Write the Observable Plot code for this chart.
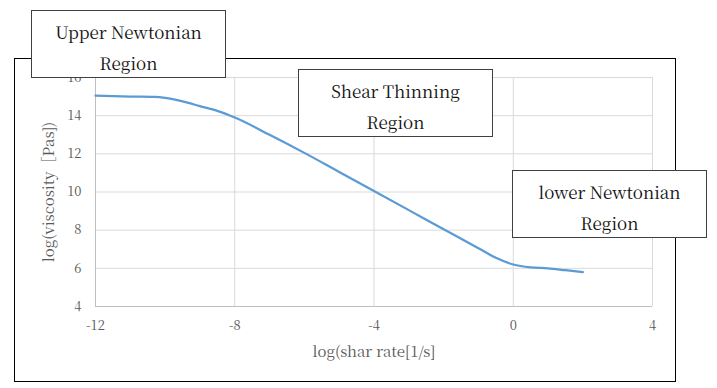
<!DOCTYPE html>
<html>
<head>
<meta charset="utf-8">
<script src="https://cdn.jsdelivr.net/npm/d3@7"></script>
<script src="https://cdn.jsdelivr.net/npm/@observablehq/plot@0.6"></script>
<style>
  html, body { margin: 0; padding: 0; background: #fff; }
  #wrap { position: relative; width: 717px; height: 388px; overflow: hidden; font-family: "Noto Serif CJK JP", "Liberation Serif", serif; }
  #frame { position: absolute; left: 14px; top: 58px; width: 662px; height: 324px; box-sizing: border-box; border: 1.5px solid #000; }
  #chart { position: absolute; left: 0; top: 0; }
  .note { position: absolute; box-sizing: border-box; width: 195px; height: 68px; border: 1px solid #404040; background: #fff;
          text-align: center; font-family: "Noto Serif CJK JP", "Liberation Serif", serif; font-size: 17px; line-height: 31px; padding-top: 5px; color: #111; }
</style>
</head>
<body>
<div id="wrap">
  <div id="frame"></div>
  <div id="chart"></div>
</div>
<script>
// ---- data ----
const shearRate = [-12, -11, -10.3, -10, -9.5, -9, -8.5, -8, -7, -6, -5, -4, -3, -2, -1, -0.5, 0, 0.5, 1, 1.5, 2];
const viscosity = [15.05, 15.0, 14.98, 14.93, 14.75, 14.5, 14.25, 13.9, 13.0, 12.05, 11.05, 10.05, 9.05, 8.05, 7.05, 6.55, 6.2, 6.05, 6.0, 5.9, 5.8];
const xTicks = [-12, -8, -4, 0, 4];
const yTicks = [4, 6, 8, 10, 12, 14, 16];
const xTitle = "log(shar rate[1/s]";
const yTitle = "log(viscosity［Pas])";
const noteTexts = [["Upper Newtonian", "Region"], ["Shear Thinning", "Region"], ["lower Newtonian", "Region"]];

// ---- layout (kept separate from data) ----
const notePos = [[31, 10], [298, 69], [512, 170]];
const FONT = '"Noto Serif CJK JP", "Liberation Serif", serif';

const rows = shearRate.map((x, i) => ({x, y: viscosity[i]}));

const plot = Plot.plot({
  width: 717,
  height: 388,
  marginLeft: 95,
  marginRight: 65,
  marginTop: 77,
  marginBottom: 82,
  style: { fontFamily: FONT, fontSize: "13px", color: "#595959", background: "transparent" },
  x: { domain: [-12, 4] },
  y: { domain: [4, 16] },
  marks: [
    Plot.gridX(xTicks, { stroke: "#d9d9d9", strokeOpacity: 1 }),
    Plot.gridY(yTicks, { stroke: "#d9d9d9", strokeOpacity: 1 }),
    Plot.ruleY([4], { stroke: "#bfbfbf" }),
    Plot.ruleX([-12], { stroke: "#bfbfbf" }),
    Plot.axisX(xTicks, { tickSize: 0, tickPadding: 14, tickFormat: d => String(d), fontSize: 13,
      label: xTitle, labelAnchor: "center", labelArrow: "none", labelOffset: 50, fill: "#595959" }),
    Plot.axisY(yTicks, { tickSize: 0, tickPadding: 14, tickFormat: d => String(d), fontSize: 13,
      label: yTitle, labelAnchor: "center", labelArrow: "none", labelOffset: 52, fill: "#595959" }),
    Plot.line(rows, { x: "x", y: "y", stroke: "#5b9bd5", strokeWidth: 2.25, curve: "monotone-x" })
  ]
});
document.getElementById("chart").appendChild(plot);

// axis title font sizes
plot.querySelectorAll("[aria-label='x-axis label'] text, [aria-label='y-axis label'] text").forEach(t => {
  t.setAttribute("font-size", "15px");
});

const wrap = document.getElementById("wrap");
noteTexts.forEach((lines, i) => {
  const d = document.createElement("div");
  d.className = "note";
  d.style.left = notePos[i][0] + "px";
  d.style.top = notePos[i][1] + "px";
  lines.forEach((l, j) => {
    const s = document.createElement("div");
    s.textContent = l;
    d.appendChild(s);
  });
  wrap.appendChild(d);
});
</script>
</body>
</html>
